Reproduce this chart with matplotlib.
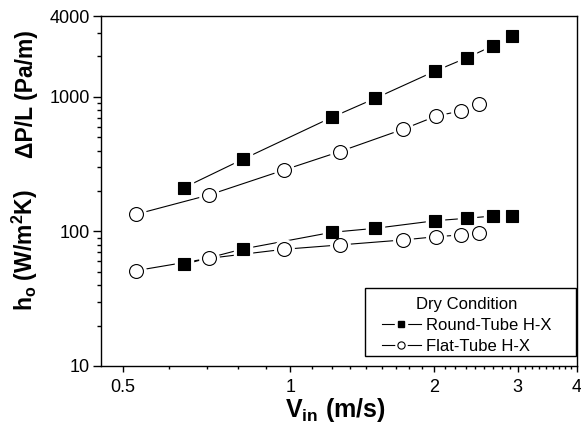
import numpy as np
import matplotlib
matplotlib.use('Agg')
import matplotlib.pyplot as plt
from matplotlib.lines import Line2D
from matplotlib.legend_handler import HandlerTuple
from matplotlib.patches import Rectangle
from matplotlib.ticker import FixedLocator, FixedFormatter, NullFormatter

plt.rcParams['font.family'] = ['Liberation Sans', 'DejaVu Sans']
plt.rcParams['mathtext.default'] = 'regular'

# velocidad de entrada (m/s)
v_round = [0.598, 0.794, 1.222, 1.508, 2.016, 2.350, 2.667, 2.915]
v_flat = [0.473, 0.675, 0.971, 1.268, 1.723, 2.026, 2.279, 2.488]

# caida de presion por longitud (Pa/m)
dp_round = [212, 344, 706, 978, 1561, 1960, 2405, 2841]
dp_flat = [134, 187, 287, 392, 575, 722, 787, 882]

# coeficiente de transferencia h_o (W/m2K)
h_round = [57.0, 74.1, 98.6, 105.6, 120.3, 125.4, 130.4, 131.1]
h_flat = [51.1, 63.2, 73.8, 79.4, 86.5, 91.5, 94.2, 98.0]

legend_title = 'Dry Condition'
labels = ['Round-Tube H-X', 'Flat-Tube H-X']

# ticks como en el original (Origin)
xtick_pos = [4/9, 1, 2, 3, 4]
xtick_labels = ['0.5', '1', '2', '3', '4']
ytick_pos = [10, 100, 1000, 4000]
ytick_labels = ['10', '100', '1000', '4000']

fig = plt.figure(figsize=(5.81, 4.32), dpi=100)
ax = fig.add_axes([101/581, 1 - 366/432, 476/581, 350/432])


def draw(x, y, marker, filled, ms):
    ax.plot(x, y, color='k', lw=0.8, zorder=2)
    ax.plot(x, y, ls='none', marker=marker, ms=ms + 4, mfc='white', mec='white', zorder=3)
    ax.plot(x, y, ls='none', marker=marker, ms=ms, mfc='k' if filled else 'white',
            mec='k', mew=0.8, zorder=4)


draw(v_round, dp_round, 's', True, 9.2)
draw(v_flat, dp_flat, 'o', False, 10)
draw(v_round, h_round, 's', True, 9.2)
draw(v_flat, h_flat, 'o', False, 10)

ax.set_xscale('log')
ax.set_yscale('log')
ax.set_xlim(0.4, 4)
ax.set_ylim(10, 4000)

ax.xaxis.set_major_locator(FixedLocator(xtick_pos))
ax.xaxis.set_major_formatter(FixedFormatter(xtick_labels))
xminor = [k / 9 for k in range(5, 37) if k % 9 != 0]
ax.xaxis.set_minor_locator(FixedLocator(xminor))
ax.xaxis.set_minor_formatter(NullFormatter())

ax.yaxis.set_major_locator(FixedLocator(ytick_pos))
ax.yaxis.set_major_formatter(FixedFormatter(ytick_labels))
yminor = [m * d for d in (10, 100, 1000) for m in range(2, 10) if m * d < 4000]
ax.yaxis.set_minor_locator(FixedLocator(yminor))
ax.yaxis.set_minor_formatter(NullFormatter())

ax.tick_params(which='both', direction='out', top=False, right=False, width=1, labelsize=13)
ax.tick_params(axis='x', which='major', length=4, pad=5)
ax.tick_params(axis='x', which='minor', length=2.5)
ax.tick_params(axis='y', which='major', length=5.5, pad=2.5)
ax.tick_params(axis='y', which='minor', length=3)
for s in ax.spines.values():
    s.set_linewidth(1)

# etiquetas de ejes
fig.text(335/581, 1 - 417/432, r'V$_\mathregular{in}$ (m/s)', ha='center', va='baseline',
         fontsize=18, fontweight='bold')
fig.text(33/581, 1 - 94.5/432, 'ΔP/L (Pa/m)', rotation=90, rotation_mode='anchor',
         ha='center', va='baseline', fontsize=16.5, fontweight='bold')
fig.text(33/581, 1 - 250/432, r'h$_\mathregular{o}$ (W/m$^\mathregular{2}$K)', rotation=90,
         rotation_mode='anchor', ha='center', va='baseline', fontsize=16.5, fontweight='bold')

# leyenda
line = Line2D([], [], color='k', lw=0.8)
h1 = (line,
      Line2D([], [], ls='none', marker='s', ms=8, mfc='w', mec='w'),
      Line2D([], [], ls='none', marker='s', ms=4.8, color='k'))
h2 = (line,
      Line2D([], [], ls='none', marker='o', ms=8, mfc='w', mec='w'),
      Line2D([], [], ls='none', marker='o', ms=5.2, mfc='w', mec='k', mew=0.8))
leg = ax.legend([h1, h2], labels, title=legend_title, handler_map={tuple: HandlerTuple(ndivide=1)},
                loc='center', bbox_to_anchor=(0.769, 0.115), frameon=False, borderpad=0,
                fontsize=12, title_fontsize=12, handlelength=2.3, handletextpad=0.35,
                labelspacing=0.35)
leg.set_zorder(6)
ax.add_patch(Rectangle((0.5546, 0.0286), 0.443, 0.194, transform=ax.transAxes,
                       fill=True, facecolor='white', edgecolor='k', lw=1, zorder=5))

fig.savefig('out.png', dpi=100)
